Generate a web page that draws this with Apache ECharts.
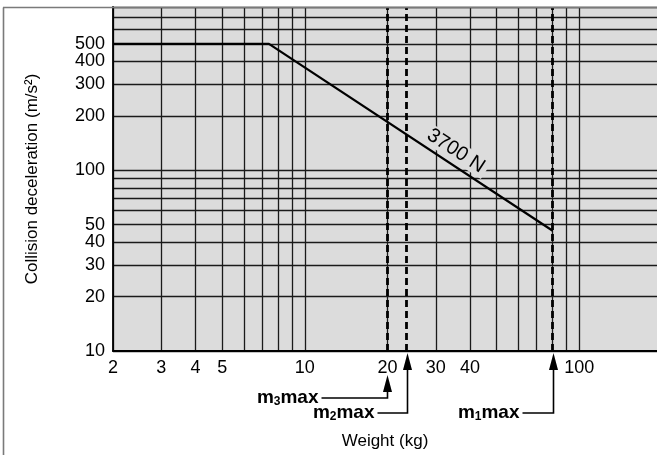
<!DOCTYPE html>
<html>
<head>
<meta charset="utf-8">
<script src="https://cdn.jsdelivr.net/npm/echarts@6/dist/echarts.min.js"></script>
<style>
html,body{margin:0;padding:0;background:#fff;}
#c{width:657px;height:455px;}
</style>
</head>
<body>
<div id="c"></div>
<script>
// ---- data ----
const xGridValues = [2, 3, 4, 5, 6, 7, 8, 9, 10, 20, 30, 40, 50, 60, 70, 80, 90, 100];
const yGridValues = [10, 20, 30, 40, 50, 60, 70, 80, 90, 100, 200, 300, 400, 500, 600, 700, 800];
const xTickLabels = [2, 3, 4, 5, 10, 20, 30, 40, 100];
const yTickLabels = [10, 20, 30, 40, 50, 100, 200, 300, 400];
const yTopLabel = [500];
const weightKg = [2, 7.4, 80];
const decel = [500, 500, 46.25];
const forceName = '3700 N';
const forceLabelAt = [35.5, 128];
const limitNames = ['3', '2', '1'];
const limitWeights = [20, 23.5, 80];

const FONT = "'Liberation Sans', Arial, Helvetica, sans-serif";
const chart = echarts.init(document.getElementById('c'), null, {renderer: 'canvas'});

const gridLine = {show: true, lineStyle: {color: '#1a1a1a', width: 1.3}};
const yLabelStyle = {fontFamily: FONT, fontSize: 18, color: '#000', margin: 8,
  hideOverlap: false, showMinLabel: true, showMaxLabel: true};

chart.setOption({
  animation: false,
  backgroundColor: '#fff',
  grid: {left: 113, right: 0, top: 7, bottom: 104, show: true, backgroundColor: '#dcdcdc', borderWidth: 0},
  xAxis: {
    type: 'log', min: 2, max: 192,
    name: 'Weight (kg)', nameLocation: 'middle', nameGap: 82,
    nameTextStyle: {fontFamily: FONT, fontSize: 17, color: '#000'},
    axisLine: {show: true, lineStyle: {color: '#000', width: 1.8}},
    axisTick: {show: false, customValues: xGridValues},
    axisLabel: {customValues: xTickLabels, fontFamily: FONT, fontSize: 18, color: '#000', margin: 8,
      hideOverlap: false, showMinLabel: true, showMaxLabel: true},
    splitLine: gridLine,
    minorSplitLine: {show: false}
  },
  yAxis: [{
    type: 'log', min: 10, max: 800,
    name: 'Collision deceleration (m/s²)', nameLocation: 'middle', nameGap: 72,
    nameTextStyle: {fontFamily: FONT, fontSize: 17, color: '#000'},
    axisLine: {show: true, lineStyle: {color: '#000', width: 1.8}},
    axisTick: {show: false, customValues: yGridValues},
    axisLabel: Object.assign({customValues: yTickLabels}, yLabelStyle),
    splitLine: gridLine
  }, {
    type: 'log', min: 10, max: 800, position: 'left',
    axisLine: {show: false}, axisTick: {show: false, customValues: yTopLabel},
    axisLabel: Object.assign({customValues: yTopLabel}, yLabelStyle),
    splitLine: {show: false}
  }],
  series: [{
    type: 'line',
    data: weightKg.map((w, i) => [w, decel[i]]),
    showSymbol: false,
    symbol: 'none',
    lineStyle: {color: '#000', width: 2.2},
    z: 5,
    markLine: {
      silent: true, symbol: 'none',
      lineStyle: {color: '#000', width: 2.8, type: [7, 4]},
      label: {show: false},
      data: limitWeights.map(w => ({xAxis: w}))
    },
    markPoint: {
      silent: true,
      symbol: 'circle', symbolSize: 0,
      data: [{coord: forceLabelAt, value: forceName}],
      label: {
        show: true, formatter: forceName, rotate: -33,
        fontFamily: FONT, fontSize: 20, color: '#000',
        backgroundColor: '#dcdcdc', padding: [0, 4]
      }
    }
  }]
});

// annotations below the axis (arrows to the limit weights)
const annot = [
  {tipOff: 24, endOff: 47, leftLen: 66},
  {tipOff: 2, endOff: 62, leftLen: 30},
  {tipOff: 2, endOff: 62, leftLen: 31}
];
const gfx = [];
limitWeights.forEach((w, i) => {
  const p = chart.convertToPixel({gridIndex: 0}, [w, 10]);
  const x = Math.round(p[0]) + 0.5, ay = p[1];
  const a = annot[i];
  const tipY = ay + a.tipOff, endY = ay + a.endOff, endX = x - a.leftLen;
  gfx.push({type: 'polygon', z: 100, shape: {points: [[x, tipY], [x - 4.5, tipY + 17], [x + 4.5, tipY + 17]]}, style: {fill: '#000'}});
  gfx.push({type: 'polyline', z: 100, shape: {points: [[x, tipY + 12], [x, endY], [endX, endY]]}, style: {stroke: '#000', lineWidth: 1.6, fill: null}});
  gfx.push({type: 'text', z: 100, style: {
    text: '{a|m}{s|' + limitNames[i] + '}{a|max}', x: endX - 3, y: endY, align: 'right', verticalAlign: 'middle',
    rich: {
      a: {fontFamily: FONT, fontSize: 19, fontWeight: 'bold', fill: '#000', verticalAlign: 'bottom'},
      s: {fontFamily: FONT, fontSize: 12, fontWeight: 'bold', fill: '#000', verticalAlign: 'bottom'}
    }
  }});
});
// outer frame
gfx.push({type: 'line', z: 101, shape: {x1: 3.5, y1: 7.5, x2: 3.5, y2: 455}, style: {stroke: '#7a7a7a', lineWidth: 1.6}});
gfx.push({type: 'line', z: 101, shape: {x1: 3, y1: 7.5, x2: 657, y2: 7.5}, style: {stroke: '#7a7a7a', lineWidth: 1.6}});
chart.setOption({graphic: gfx});
</script>
</body>
</html>
